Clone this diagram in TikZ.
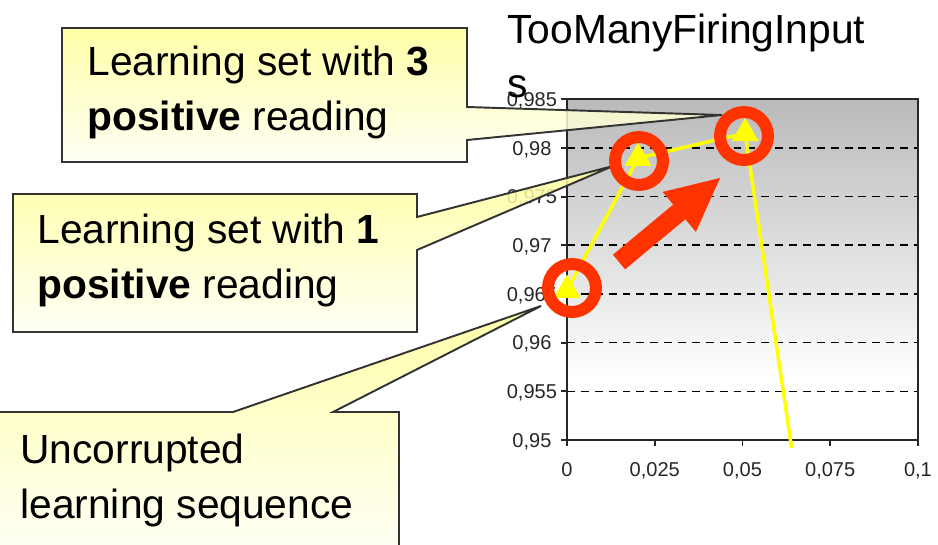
\documentclass[tikz,border=0pt]{standalone}
\usepackage{fontspec}
\setmainfont{Liberation Sans}
\usetikzlibrary{arrows.meta,shapes.geometric,positioning}

\definecolor{calloutyellow}{RGB}{255,255,153}
\definecolor{calloutpale}{RGB}{255,255,242}
\definecolor{hitred}{RGB}{255,51,0}
\definecolor{plotgray}{RGB}{186,186,186}
\definecolor{markyellow}{RGB}{255,255,0}

\begin{document}
\begin{tikzpicture}[x=0.02cm, y=-0.02cm,
  calloutshape/.style={draw=black!80, line width=1.1pt, top color=calloutyellow,
    bottom color=calloutpale, fill opacity=0.85, line join=miter},
  callouttext/.style={anchor=base west, align=left, inner sep=0pt,
    font=\fontsize{23.2}{31.2}\selectfont},
  titletext/.style={anchor=base west, align=left, inner sep=0pt,
    font=\fontsize{23.2}{30.6}\selectfont},
  ticklabel/.style={inner sep=0pt, text height=8.2pt, text depth=0pt,
    font=\fontsize{11.4}{13}\selectfont, text=black!85},
  axisline/.style={draw=black!85, line width=1.1pt},
  gridline/.style={draw=black, line width=0.9pt, dash pattern=on 4.5pt off 3.4pt},
  dataline/.style={draw=markyellow, line width=0.07cm, line join=round},
  datamark/.style={regular polygon, regular polygon sides=3, fill=markyellow,
    minimum size=0.62cm, inner sep=0pt},
  hitring/.style={circle, draw=hitred, line width=0.24cm, minimum size=0.96cm, inner sep=0pt},
  bigarrow/.style={draw=hitred, line width=0.38cm,
    -{Triangle[length=1.06cm, width=1.04cm, line width=0pt]}}]

  \useasboundingbox (0,0) rectangle (938,545);
  \clip (0,0) rectangle (938,545);

  % chart area
  \begin{scope}[shift={(567,440)}, x=1.755cm, y=0.974cm]
    \fill[white] (0,0) rectangle (4,7);
    \shade[top color=plotgray, bottom color=white] (0,1.2) rectangle (4,7);
    \foreach \j in {1,...,6}
      \draw[gridline] (0,\j) -- (4,\j);
    \draw[axisline] (0,0) rectangle (4,7);
    % axis ticks and labels
    \foreach \j/\ylab in {0/{0,95},1/{0,955},2/{0,96},3/{0,965},4/{0,97},5/{0,975},6/{0,98},7/{0,985}} {
      \draw[axisline] (0,\j) -- (-0.07,\j);
      \node[ticklabel] (y\j) at (-0.4,\j) {\ylab};
    }
    \foreach \i/\xlab in {0/0,1/{0,025},2/{0,05},3/{0,075},4/{0,1}} {
      \draw[axisline] (\i,0) -- (\i,-0.12);
      \node[ticklabel] (x\i) at (\i,-0.6) {\xlab};
    }
    % data series
    \coordinate (p1) at (0,3.08);
    \coordinate (p2) at (0.81,5.79);
    \coordinate (p3) at (2.03,6.30);
    \coordinate (pend) at (2.56,-0.16);
    \draw[dataline] (p1) -- (p2) -- (p3) -- (pend);
    \foreach \p in {p1,p2,p3}
      \node[datamark] (m\p) at (\p) {};
  \end{scope}

  % improvement arrow
  \coordinate (atail) at (619,262);
  \coordinate (atip) at (720,178);
  \draw[bigarrow] (atail) -- (atip);

  % callouts
  \coordinate (tip1) at (722,115);
  \coordinate (tip2) at (613,166);
  \coordinate (tip3) at (541,306);
  \path[calloutshape] (62,28) -- (467,28) -- (467,107) -- (tip1) -- (467,140)
    -- (467,162) -- (62,162) -- cycle;
  \path[calloutshape] (13,194) -- (417,194) -- (417,217) -- (tip2) -- (417,250)
    -- (417,332) -- (13,332) -- cycle;
  \path[calloutshape] (-6,412) -- (233,412) -- (tip3) -- (333,412) -- (399,412)
    -- (399,546) -- (-6,546) -- cycle;
  \node[callouttext] (three) at (87,130) {Learning set with \textbf{3}\\\textbf{positive} reading};
  \node[callouttext] (one) at (37,298) {Learning set with \textbf{1}\\\textbf{positive} reading};
  \node[callouttext] (clean) at (20,518) {Uncorrupted\\learning sequence};

  % highlighted points
  \node[hitring] (ring1) at (572,288) {};
  \node[hitring] (ring2) at (639,161) {};
  \node[hitring] (ring3) at (744,136) {};

  % chart title
  \node[titletext] (title) at (507,97) {TooManyFiringInput\\s};
\end{tikzpicture}
\end{document}
